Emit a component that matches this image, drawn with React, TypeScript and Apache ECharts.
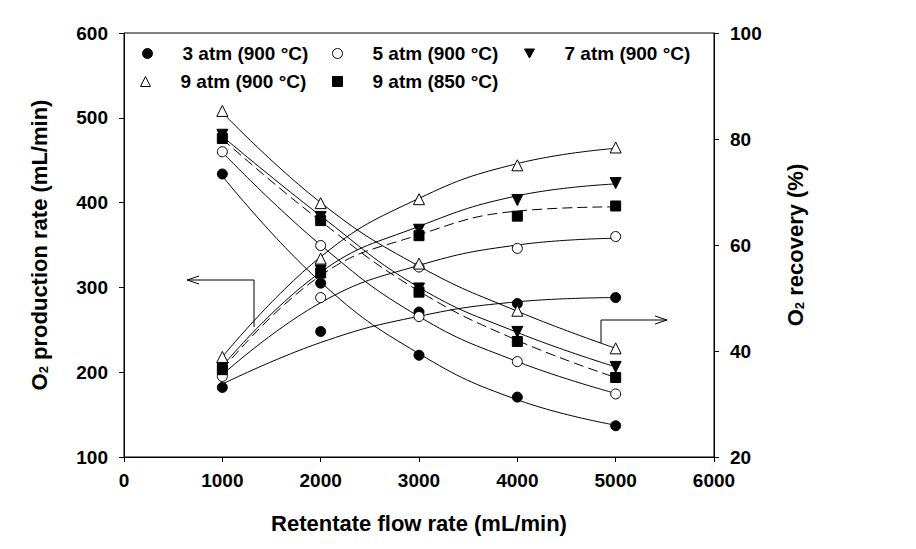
import React, { useEffect, useRef } from "react";
import * as echarts from "echarts";

const FLOW = [1000, 2000, 3000, 4000, 5000];

const GROUPS = ["3 atm (900 °C)", "5 atm (900 °C)", "7 atm (900 °C)", "9 atm (900 °C)", "9 atm (850 °C)"];

// O2 production rate (mL/min) – measured points
const PROD_3 = [182, 248, 271, 281, 288];
const PROD_5 = [195, 288, 324, 346, 360];
const PROD_7 = [205, 320, 368, 403, 423];
const PROD_9 = [218, 334, 404, 444, 465];
const PROD_9B = [203, 317, 361, 384, 396];

// O2 production rate – fitted curves
const PROD_FIT_3 = [186, 235, 266, 283, 288];
const PROD_FIT_5 = [197, 282, 326, 350, 358];
const PROD_FIT_7 = [207, 318, 372, 408, 422];
const PROD_FIT_9 = [218, 336, 405, 446, 464];
const PROD_FIT_9B = [203, 314, 362, 390, 395];

// O2 recovery (%) – measured points
const REC_3 = [73.4, 52.8, 39.2, 31.3, 25.9];
const REC_5 = [77.6, 59.9, 46.5, 38.0, 31.9];
const REC_7 = [80.8, 65.3, 51.8, 43.6, 37.0];
const REC_9 = [85.3, 67.9, 56.5, 47.6, 40.5];
const REC_9B = [80.1, 64.6, 51.1, 41.8, 35.0];

// O2 recovery – fitted curves
const REC_FIT_3 = [73, 53, 39.5, 30.8, 26];
const REC_FIT_5 = [77.5, 60, 46.5, 38, 32];
const REC_FIT_7 = [80.5, 65.5, 52, 43.5, 37];
const REC_FIT_9 = [85, 68, 56, 47.5, 40.5];
const REC_FIT_9B = [80, 64.5, 51.3, 42, 35];

const X_TICKS = { min: 0, max: 6000, interval: 1000 };
const LEFT_TICKS = { min: 100, max: 600, interval: 100 };
const RIGHT_TICKS = { min: 20, max: 100, interval: 20 };

const FONT = "'Liberation Sans', Arial, sans-serif";

const DOWN_TRI = "path://M0,0L10,0L5,9Z";

const MARKERS = [
  { symbol: "circle", rotate: 0, fill: "#000", icon: "circle" },
  { symbol: "circle", rotate: 0, fill: "#fff", icon: "circle" },
  { symbol: "triangle", rotate: 180, fill: "#000", icon: DOWN_TRI },
  { symbol: "triangle", rotate: 0, fill: "#fff", icon: "triangle" },
  { symbol: "rect", rotate: 0, fill: "#000", icon: "rect" },
];

const PROD = [PROD_3, PROD_5, PROD_7, PROD_9, PROD_9B];
const PROD_FIT = [PROD_FIT_3, PROD_FIT_5, PROD_FIT_7, PROD_FIT_9, PROD_FIT_9B];
const REC = [REC_3, REC_5, REC_7, REC_9, REC_9B];
const REC_FIT = [REC_FIT_3, REC_FIT_5, REC_FIT_7, REC_FIT_9, REC_FIT_9B];

const LEGEND_POS = [
  { left: 142, top: 44 },
  { left: 332, top: 44 },
  { left: 524, top: 44 },
  { left: 140, top: 72 },
  { left: 332, top: 72 },
];

export default function App() {
  const ref = useRef<HTMLDivElement>(null);

  useEffect(() => {
    if (!ref.current) return;
    const chart = echarts.init(ref.current, null, { renderer: "svg" });

    const pair = (ys: number[]) => FLOW.map((x, i) => [x, ys[i]]);
    const series: any[] = [];
    GROUPS.forEach((name, g) => {
      const m = MARKERS[g];
      const dashed = g === 4;
      const lineStyle = { color: "#000", width: 1, type: dashed ? [10, 5] : "solid" };
      [
        { fit: PROD_FIT[g], pts: PROD[g], axis: 0 },
        { fit: REC_FIT[g], pts: REC[g], axis: 1 },
      ].forEach((s) => {
        series.push({
          name,
          type: "line",
          yAxisIndex: s.axis,
          data: pair(s.fit),
          smooth: 0.45,
          showSymbol: false,
          symbol: "none",
          lineStyle,
          itemStyle: { color: "#000" },
          silent: true,
          z: 2,
        });
        series.push({
          name,
          type: "scatter",
          yAxisIndex: s.axis,
          data: pair(s.pts),
          symbol: m.symbol,
          symbolRotate: m.rotate,
          symbolSize: m.symbol === "triangle" ? 11 : 10,
          itemStyle: { color: m.fill, borderColor: "#000", borderWidth: 1, opacity: 1 },
          z: 3 + g,
        });
      });
    });

    const legends = GROUPS.map((name, g) => ({
      left: LEGEND_POS[g].left,
      top: LEGEND_POS[g].top,
      orient: "horizontal",
      itemWidth: 10,
      itemHeight: 10,
      padding: 0,
      selectedMode: false,
      formatter: (n: string) => `{g|}${n}`,
      textStyle: {
        fontFamily: FONT,
        fontWeight: "bold",
        fontSize: 19,
        color: "#000",
        rich: { g: { width: 25 } },
      },
      data: [
        {
          name,
          icon: MARKERS[g].icon,
          itemStyle: { color: MARKERS[g].fill, borderColor: "#000", borderWidth: 1 },
        },
      ],
    }));

    const axisLabel = { fontFamily: FONT, fontWeight: "bold", fontSize: 19, color: "#000", margin: 16 };
    const nameStyle = {
      fontFamily: FONT,
      fontWeight: "bold",
      fontSize: 22,
      color: "#000",
      rich: {
        sub: { fontFamily: FONT, fontWeight: "bold", fontSize: 13, color: "#000", verticalAlign: "bottom", lineHeight: 8 },
      },
    };

    const arrow = (pts: number[][]) => ({
      type: "polyline",
      shape: { points: pts },
      style: { stroke: "#000", lineWidth: 1, fill: null },
      silent: true,
      z: 10,
    });

    chart.setOption({
      animation: false,
      backgroundColor: "#fff",
      grid: {
        left: 124,
        right: 202,
        top: 33,
        bottom: 92,
        show: true,
        borderColor: "#000",
        borderWidth: 1,
        containLabel: false,
        outerBoundsMode: "none",
      },
      legend: legends,
      xAxis: {
        type: "value",
        ...X_TICKS,
        name: "Retentate flow rate (mL/min)",
        nameLocation: "middle",
        nameGap: 55,
        nameTextStyle: { fontFamily: FONT, fontWeight: "bold", fontSize: 22, color: "#000" },
        axisLine: { show: true, onZero: false, lineStyle: { color: "#000", width: 1 } },
        axisTick: { show: true, inside: false, length: 5, lineStyle: { color: "#000" } },
        axisLabel: { ...axisLabel, margin: 14, formatter: (v: number) => String(v) },
        splitLine: { show: false },
      },
      yAxis: [
        {
          type: "value",
          position: "left",
          ...LEFT_TICKS,
          name: "O{sub|2} production rate (mL/min)",
          nameLocation: "middle",
          nameRotate: 90,
          nameGap: 74,
          nameTextStyle: nameStyle,
          axisLine: { show: true, lineStyle: { color: "#000", width: 1 } },
          axisTick: { show: true, inside: false, length: 5, lineStyle: { color: "#000" } },
          axisLabel: { ...axisLabel, formatter: (v: number) => String(v) },
          splitLine: { show: false },
        },
        {
          type: "value",
          position: "right",
          ...RIGHT_TICKS,
          name: "O{sub|2} recovery (%)",
          nameLocation: "middle",
          nameRotate: 90,
          nameGap: 70,
          nameTextStyle: nameStyle,
          axisLine: { show: true, lineStyle: { color: "#000", width: 1 } },
          axisTick: { show: true, inside: false, length: 5, lineStyle: { color: "#000" } },
          axisLabel: { ...axisLabel, formatter: (v: number) => String(v) },
          splitLine: { show: false },
        },
      ],
      graphic: [
        arrow([[254, 327], [254, 280], [187, 280]]),
        arrow([[199, 276], [187, 280], [199, 284]]),
        arrow([[601, 343], [601, 320], [667, 320]]),
        arrow([[655, 316], [667, 320], [655, 324]]),
      ],
      series,
    });

    return () => chart.dispose();
  }, []);

  return (
    <div
      ref={ref}
      style={{ position: "fixed", left: 0, top: 0, width: 916, height: 549, background: "#fff" }}
    />
  );
}
